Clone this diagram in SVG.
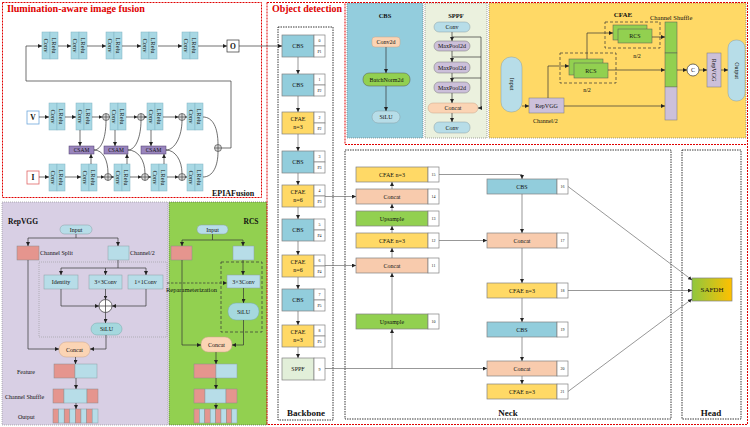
<svg xmlns="http://www.w3.org/2000/svg" width="750" height="427" viewBox="0 0 750 427">
<defs>
<marker id="a" viewBox="0 0 6 6" refX="6" refY="3" markerWidth="4" markerHeight="4" markerUnits="userSpaceOnUse" orient="auto"><path d="M0,0L6,3L0,6z" fill="#222"/></marker>
<linearGradient id="sg" x1="0" x2="1" y1="0" y2="0"><stop offset="0" stop-color="#8fc73e"/><stop offset="1" stop-color="#ffc000"/></linearGradient>
<g id="cb">
<rect x="0" y="0" width="8" height="27" fill="#a8d8e4" stroke="#7fb3c2" stroke-width="0.5"/>
<rect x="8" y="0" width="8" height="27" fill="#a8d8e4" stroke="#7fb3c2" stroke-width="0.5"/>
<text class="s rot" transform="translate(4,13.5) rotate(90)">Conv</text>
<text class="s rot" transform="translate(12,13.5) rotate(90)">LRelu</text>
</g>
<g id="op">
<circle cx="0" cy="0" r="3.5" fill="#d9d9d9" stroke="#333" stroke-width="0.6"/>
<path d="M-3.5,0H3.5M0,-3.5V3.5" stroke="#333" stroke-width="0.6"/>
</g>
</defs>
<style>
.s{font-family:"Liberation Serif","Times New Roman",serif;fill:#111;text-anchor:middle;dominant-baseline:central}
.rot{font-size:6.5px}
.st{text-anchor:start}
.ttl{font-weight:bold;fill:#e00000;font-size:9.5px;text-anchor:start}
.bt{font-weight:bold;font-size:7.5px}
.bt2{font-weight:bold;font-size:9px}
.f6{font-size:6px}
.f5{font-size:5.5px}
.f4{font-size:4px}
.ln{fill:none;stroke:#6b6b6b;stroke-width:0.7}
.la{fill:none;stroke:#6b6b6b;stroke-width:0.7;marker-end:url(#a)}
.dk{fill:none;stroke:#333;stroke-width:0.7;marker-end:url(#a)}
.red{fill:none;stroke:#e00000;stroke-width:1;stroke-dasharray:2,1}
.dot{fill:none;stroke:#222;stroke-width:0.9;stroke-dasharray:1.5,1}
.nd{stroke:#808080;stroke-width:0.7}
.cbs{fill:#92cddc}.cfae{fill:#ffd966}.cc{fill:#f8cbad}.up{fill:#92d050}.sp{fill:#e2efd9}.w{fill:#fff}
.lb{fill:#b7dde8;stroke:#8a9ea5;stroke-width:0.5}
.rd{fill:#e5958e;stroke:#8a8a8a;stroke-width:0.5}
.pp{fill:#ccc0da;stroke:#777;stroke-width:0.5}
.gr{fill:#92d050;stroke:#555;stroke-width:0.5}
.pc{fill:#fbd4b4;stroke:#c9a58a;stroke-width:0.5}
</style>

<!-- ===== Illumination-aware image fusion ===== -->
<g id="fusion">
<rect class="red" x="2.5" y="2.5" width="259" height="195"/>
<text class="s ttl" x="7" y="9" textLength="138" lengthAdjust="spacingAndGlyphs">Ilumination-aware image fusion</text>
<use href="#cb" x="42" y="32"/><use href="#cb" x="71" y="32"/><use href="#cb" x="106" y="32"/><use href="#cb" x="141" y="32"/><use href="#cb" x="182" y="32"/>
<rect x="227" y="40" width="12" height="12" fill="#fff" stroke="#333" stroke-width="0.7"/>
<text class="s" x="233" y="46" style="font-size:7.5px;font-weight:bold">O</text>
<use href="#cb" x="49" y="103"/><use href="#cb" x="76" y="103"/><use href="#cb" x="110" y="103"/><use href="#cb" x="147" y="103"/><use href="#cb" x="187" y="103"/>
<use href="#cb" x="49" y="164"/><use href="#cb" x="81" y="164"/><use href="#cb" x="114" y="164"/><use href="#cb" x="151" y="164"/><use href="#cb" x="187" y="164"/>
<rect x="27" y="111" width="12" height="13" fill="#fff" stroke="#6fa8dc" stroke-width="0.8"/>
<text class="s" x="33" y="117.5" style="font-size:7.5px;font-weight:bold">V</text>
<rect x="27" y="171" width="12" height="13" fill="#fff" stroke="#e06666" stroke-width="0.8"/>
<text class="s" x="33" y="177.5" style="font-size:7.5px;font-weight:bold">I</text>
<rect x="69" y="146" width="25" height="8" fill="#9985bd" stroke="#4b3b6b" stroke-width="0.5"/>
<rect x="104" y="146" width="24" height="8" fill="#9985bd" stroke="#4b3b6b" stroke-width="0.5"/>
<rect x="141" y="146" width="25" height="8" fill="#9985bd" stroke="#4b3b6b" stroke-width="0.5"/>
<text class="s f5" x="81.5" y="150">CSAM</text><text class="s f5" x="116" y="150">CSAM</text><text class="s f5" x="153.5" y="150">CSAM</text>
<text class="s st" x="212" y="193" style="font-size:8px;font-weight:bold">EPIAFusion</text>
</g>

<!-- ===== RepVGG panel ===== -->
<g id="repvgg">
<rect x="2" y="202" width="166" height="223" fill="#d8cfe4" stroke="#888" stroke-width="0.6" stroke-dasharray="1,1"/>
<text class="s st bt" x="8" y="221">RepVGG</text>
<rect class="lb" x="60" y="225" width="32" height="9" rx="4.5"/><text class="s f6" x="76" y="229.5">Input</text>
<rect class="rd" x="17" y="246" width="22" height="14"/><text class="s st f6" x="40" y="253">Channel Split</text>
<rect class="lb" x="108" y="246" width="21" height="14"/><text class="s st f6" x="130" y="253">Channel/2</text>
<rect x="39" y="262" width="128" height="75" fill="none" stroke="#999" stroke-width="0.6" stroke-dasharray="1,1"/>
<rect class="lb" x="44" y="275" width="34" height="14"/><text class="s f6" x="61" y="282">Identity</text>
<rect class="lb" x="89" y="275" width="33" height="14"/><text class="s f6" x="105.5" y="282">3×3Conv</text>
<rect class="lb" x="128" y="275" width="35" height="14"/><text class="s f6" x="145.5" y="282">1×1Conv</text>
<circle cx="105.5" cy="306" r="6.5" fill="#fff" stroke="#333" stroke-width="0.7"/>
<path d="M99,306H112M105.5,299.5V312.5" stroke="#333" stroke-width="0.7"/>
<rect x="91" y="323" width="31" height="12" rx="6" fill="#a5d8de" stroke="#7aa" stroke-width="0.5"/><text class="s f6" x="106.5" y="329">SiLU</text>
<rect class="pc" x="59" y="342" width="31" height="15" rx="7"/><text class="s f6" x="74.5" y="349.5">Concat</text>
<rect class="rd" x="54" y="364" width="21" height="14"/><rect class="lb" x="75" y="364" width="22" height="14"/>
<text class="s st f6" x="17" y="372">Feature</text>
<rect class="rd" x="53" y="389" width="11" height="14"/><rect class="lb" x="64" y="389" width="23" height="14"/><rect class="rd" x="87" y="389" width="11" height="14"/>
<text class="s st f6" x="5" y="397">Channel Shuffle</text>
<rect class="rd" x="53" y="409" width="5.6" height="14"/><rect class="lb" x="58.6" y="409" width="5.6" height="14"/><rect class="rd" x="64.2" y="409" width="5.6" height="14"/><rect class="lb" x="69.8" y="409" width="5.6" height="14"/><rect class="rd" x="75.4" y="409" width="5.6" height="14"/><rect class="lb" x="81" y="409" width="5.6" height="14"/><rect class="rd" x="86.6" y="409" width="5.6" height="14"/><rect class="lb" x="92.2" y="409" width="5.8" height="14"/>
<text class="s st f6" x="18" y="417">Output</text>
</g>

<!-- ===== RCS panel ===== -->
<g id="rcs">
<rect x="169" y="202" width="98" height="223" fill="#92d050" stroke="#444" stroke-width="0.6" stroke-dasharray="1,1"/>
<text class="s bt" x="251" y="221">RCS</text>
<rect class="lb" x="197" y="225" width="31" height="9" rx="4.5"/><text class="s f6" x="212.5" y="229.5">Input</text>
<rect class="rd" x="171" y="246" width="21" height="14"/>
<rect class="lb" x="233" y="246" width="21" height="14"/>
<rect x="221" y="262" width="41" height="70" fill="none" stroke="#333" stroke-width="0.7" stroke-dasharray="3,2"/>
<rect class="lb" x="227" y="275" width="33" height="13"/><text class="s f6" x="243.5" y="281.5">3×3Conv</text>
<rect x="228" y="303" width="31" height="17" rx="8" fill="#a5d8de" stroke="#7aa" stroke-width="0.5"/><text class="s f6" x="243.5" y="311.5">SiLU</text>
<rect class="pc" x="201" y="337" width="31" height="15" rx="7"/><text class="s f6" x="216.5" y="344.5">Concat</text>
<rect class="rd" x="194" y="364" width="22" height="14"/><rect class="lb" x="216" y="364" width="21" height="14"/>
<rect class="rd" x="194" y="389" width="11" height="14"/><rect class="lb" x="205" y="389" width="21" height="14"/><rect class="rd" x="226" y="389" width="11" height="14"/>
<rect class="rd" x="194" y="409" width="5.4" height="14"/><rect class="lb" x="199.4" y="409" width="5.4" height="14"/><rect class="rd" x="204.8" y="409" width="5.4" height="14"/><rect class="lb" x="210.2" y="409" width="5.4" height="14"/><rect class="rd" x="215.6" y="409" width="5.4" height="14"/><rect class="lb" x="221" y="409" width="5.4" height="14"/><rect class="rd" x="226.4" y="409" width="5.4" height="14"/><rect class="lb" x="231.8" y="409" width="5.2" height="14"/>
<text class="s st" x="166" y="289" style="font-size:6.5px">Reparameterization</text>
</g>

<!-- ===== Object detection frame ===== -->
<g id="frames">
<rect class="red" x="267" y="2.5" width="480.5" height="422"/>
<text class="s ttl" x="272" y="9" textLength="70" lengthAdjust="spacingAndGlyphs">Object detection</text>
<rect x="347" y="3" width="76" height="135" fill="#93cddd" stroke="#666" stroke-width="0.6" stroke-dasharray="1,1"/>
<rect x="425" y="3" width="62" height="135" fill="#ebf1de" stroke="#666" stroke-width="0.6" stroke-dasharray="1,1"/>
<rect x="489" y="3" width="257" height="135" fill="#ffd966" stroke="#666" stroke-width="0.6" stroke-dasharray="1,1"/>
<rect class="red" x="345" y="2.5" width="402.5" height="142"/>
<rect class="dot" x="278" y="27" width="55" height="393"/>
<text class="s bt2" x="306" y="413">Backbone</text>
<rect class="dot" x="345" y="150" width="326" height="269"/>
<text class="s bt2" x="508" y="413">Neck</text>
<rect class="dot" x="682" y="150" width="59" height="269"/>
<text class="s bt2" x="711" y="413">Head</text>
</g>

<!-- ===== CBS detail ===== -->
<g id="cbsdetail">
<text class="s" x="385" y="15" style="font-size:6.5px;font-weight:bold">CBS</text>
<rect class="pc" x="372" y="37" width="28" height="10" rx="3"/><text class="s f6" x="386" y="42">Conv2d</text>
<rect class="gr" x="363" y="73" width="47" height="13" rx="6"/><text class="s f6" x="386.5" y="79.5">BatchNorm2d</text>
<rect class="lb" x="372" y="111" width="28" height="12" rx="6"/><text class="s f6" x="386" y="117">SiLU</text>
</g>

<!-- ===== SPPF detail ===== -->
<g id="sppfdetail">
<text class="s" x="456" y="15" style="font-size:6.5px;font-weight:bold">SPPF</text>
<rect class="lb" x="434" y="22" width="36" height="10" rx="5"/><text class="s f6" x="452" y="27">Conv</text>
<rect class="pp" x="434" y="41" width="36" height="10" rx="5"/><text class="s f6" x="452" y="46">MaxPool2d</text>
<rect class="pp" x="434" y="62" width="36" height="11" rx="5"/><text class="s f6" x="452" y="67.5">MaxPool2d</text>
<rect class="pp" x="434" y="82" width="36" height="11" rx="5"/><text class="s f6" x="452" y="87.5">MaxPool2d</text>
<rect class="pc" x="428" y="103" width="50" height="10" rx="5"/><text class="s f6" x="453" y="108">Concat</text>
<rect class="lb" x="434" y="122" width="36" height="11" rx="5"/><text class="s f6" x="452" y="127.5">Conv</text>
</g>

<!-- ===== CFAE detail ===== -->
<g id="cfaedetail">
<text class="s" x="623" y="15" style="font-size:7px;font-weight:bold">CFAE</text>
<text class="s st" x="650" y="17" style="font-size:6.5px">Channel Shuffle</text>
<rect class="lb" x="501" y="57" width="21" height="55" rx="10"/><text class="s f6" transform="translate(511.5,84) rotate(90)">Input</text>
<rect class="pp" x="529" y="98" width="35" height="15"/><text class="s f6" x="546.5" y="105.5">RepVGG</text>
<text class="s st f6" x="533" y="121">Channel/2</text>
<rect x="560" y="53" width="56" height="30" fill="none" stroke="#333" stroke-width="0.7" stroke-dasharray="3,2"/>
<rect class="gr" x="569" y="59" width="34" height="16"/><rect class="gr" x="574" y="63" width="34" height="15"/><text class="s f6" x="591" y="70.5">RCS</text>
<text class="s f6" x="587" y="90">n/2</text>
<rect x="605" y="22" width="55" height="26" fill="none" stroke="#333" stroke-width="0.7" stroke-dasharray="3,2"/>
<rect class="gr" x="613" y="25" width="34" height="15"/><rect class="gr" x="618" y="29" width="34" height="14"/><text class="s f6" x="635" y="36">RCS</text>
<text class="s f6" x="637" y="56">n/2</text>
<rect class="gr" x="665" y="22" width="12" height="31"/><rect class="gr" x="665" y="53" width="12" height="34"/><rect class="pp" x="665" y="87" width="12" height="33"/>
<circle cx="693" cy="70" r="6" fill="#fff" stroke="#333" stroke-width="0.7"/><text class="s f6" x="693" y="70">C</text>
<rect class="pp" x="707" y="53" width="14" height="34"/><text class="s f6" transform="translate(714,70) rotate(90)">RepVGG</text>
<rect class="lb" x="728" y="40" width="17" height="61" rx="8"/><text class="s f6" transform="translate(736.5,70.5) rotate(90)">Output</text>
</g>

<!-- ===== Backbone nodes ===== -->
<g id="n0"><rect class="nd cbs" x="282" y="35" width="32" height="22"/><rect class="nd w" x="314" y="35" width="11" height="11"/><rect class="nd w" x="314" y="46" width="11" height="11"/><text class="s f6" x="298" y="46">CBS</text><text class="s f4" x="319.5" y="40.5">0</text><text class="s f4" x="319.5" y="51.5">P1</text></g>
<g id="n1"><rect class="nd cbs" x="282" y="74" width="32" height="22"/><rect class="nd w" x="314" y="74" width="11" height="11"/><rect class="nd w" x="314" y="85" width="11" height="11"/><text class="s f6" x="298" y="85">CBS</text><text class="s f4" x="319.5" y="79.5">1</text><text class="s f4" x="319.5" y="90.5">P2</text></g>
<g id="n2"><rect class="nd cfae" x="282" y="112" width="32" height="22"/><rect class="nd w" x="314" y="112" width="11" height="11"/><rect class="nd w" x="314" y="123" width="11" height="11"/><text class="s f6" x="298" y="119">CFAE</text><text class="s f6" x="298" y="127">n=3</text><text class="s f4" x="319.5" y="117.5">2</text><text class="s f4" x="319.5" y="128.5">P2</text></g>
<g id="n3"><rect class="nd cbs" x="282" y="151" width="32" height="22"/><rect class="nd w" x="314" y="151" width="11" height="11"/><rect class="nd w" x="314" y="162" width="11" height="11"/><text class="s f6" x="298" y="162">CBS</text><text class="s f4" x="319.5" y="156.5">3</text><text class="s f4" x="319.5" y="167.5">P3</text></g>
<g id="n4"><rect class="nd cfae" x="282" y="185" width="32" height="22"/><rect class="nd w" x="314" y="185" width="11" height="11"/><rect class="nd w" x="314" y="196" width="11" height="11"/><text class="s f6" x="298" y="192">CFAE</text><text class="s f6" x="298" y="200">n=6</text><text class="s f4" x="319.5" y="190.5">4</text><text class="s f4" x="319.5" y="201.5">P3</text></g>
<g id="n5"><rect class="nd cbs" x="282" y="219" width="32" height="22"/><rect class="nd w" x="314" y="219" width="11" height="11"/><rect class="nd w" x="314" y="230" width="11" height="11"/><text class="s f6" x="298" y="230">CBS</text><text class="s f4" x="319.5" y="224.5">5</text><text class="s f4" x="319.5" y="235.5">P4</text></g>
<g id="n6"><rect class="nd cfae" x="282" y="255" width="32" height="22"/><rect class="nd w" x="314" y="255" width="11" height="11"/><rect class="nd w" x="314" y="266" width="11" height="11"/><text class="s f6" x="298" y="262">CFAE</text><text class="s f6" x="298" y="270">n=6</text><text class="s f4" x="319.5" y="260.5">6</text><text class="s f4" x="319.5" y="271.5">P4</text></g>
<g id="n7"><rect class="nd cbs" x="282" y="289" width="32" height="22"/><rect class="nd w" x="314" y="289" width="11" height="11"/><rect class="nd w" x="314" y="300" width="11" height="11"/><text class="s f6" x="298" y="300">CBS</text><text class="s f4" x="319.5" y="294.5">7</text><text class="s f4" x="319.5" y="305.5">P5</text></g>
<g id="n8"><rect class="nd cfae" x="282" y="325" width="32" height="22"/><rect class="nd w" x="314" y="325" width="11" height="11"/><rect class="nd w" x="314" y="336" width="11" height="11"/><text class="s f6" x="298" y="332">CFAE</text><text class="s f6" x="298" y="340">n=3</text><text class="s f4" x="319.5" y="330.5">8</text><text class="s f4" x="319.5" y="341.5">P5</text></g>
<g id="n9"><rect class="nd sp" x="282" y="358" width="32" height="22"/><rect class="nd w" x="314" y="358" width="11" height="22"/><text class="s f6" x="298" y="369">SPPF</text><text class="s f4" x="319.5" y="369">9</text></g>

<!-- ===== Neck nodes ===== -->
<g id="n15"><rect class="nd cfae" x="356" y="167" width="72" height="15"/><rect class="nd w" x="428" y="167" width="11" height="15"/><text class="s f6" x="392" y="174.5">CFAE n=3</text><text class="s f4" x="433.5" y="174.5">15</text></g>
<g id="n14"><rect class="nd cc" x="356" y="189" width="72" height="15"/><rect class="nd w" x="428" y="189" width="11" height="15"/><text class="s f6" x="392" y="196.5">Concat</text><text class="s f4" x="433.5" y="196.5">14</text></g>
<g id="n13"><rect class="nd up" x="356" y="211" width="72" height="15"/><rect class="nd w" x="428" y="211" width="11" height="15"/><text class="s f6" x="392" y="218.5">Upsample</text><text class="s f4" x="433.5" y="218.5">13</text></g>
<g id="n12"><rect class="nd cfae" x="356" y="233" width="72" height="15"/><rect class="nd w" x="428" y="233" width="11" height="15"/><text class="s f6" x="392" y="240.5">CFAE n=3</text><text class="s f4" x="433.5" y="240.5">12</text></g>
<g id="n11"><rect class="nd cc" x="356" y="258" width="72" height="15"/><rect class="nd w" x="428" y="258" width="11" height="15"/><text class="s f6" x="392" y="265.5">Concat</text><text class="s f4" x="433.5" y="265.5">11</text></g>
<g id="n10"><rect class="nd up" x="356" y="314" width="72" height="15"/><rect class="nd w" x="428" y="314" width="11" height="15"/><text class="s f6" x="392" y="321.5">Upsample</text><text class="s f4" x="433.5" y="321.5">10</text></g>
<g id="n16"><rect class="nd cbs" x="487" y="179" width="70" height="15"/><rect class="nd w" x="557" y="179" width="11" height="15"/><text class="s f6" x="522" y="186.5">CBS</text><text class="s f4" x="562.5" y="186.5">16</text></g>
<g id="n17"><rect class="nd cc" x="487" y="233" width="70" height="15"/><rect class="nd w" x="557" y="233" width="11" height="15"/><text class="s f6" x="522" y="240.5">Concat</text><text class="s f4" x="562.5" y="240.5">17</text></g>
<g id="n18"><rect class="nd cfae" x="487" y="283" width="70" height="15"/><rect class="nd w" x="557" y="283" width="11" height="15"/><text class="s f6" x="522" y="290.5">CFAE n=3</text><text class="s f4" x="562.5" y="290.5">18</text></g>
<g id="n19"><rect class="nd cbs" x="487" y="322" width="70" height="15"/><rect class="nd w" x="557" y="322" width="11" height="15"/><text class="s f6" x="522" y="329.5">CBS</text><text class="s f4" x="562.5" y="329.5">19</text></g>
<g id="n20"><rect class="nd cc" x="487" y="361" width="70" height="15"/><rect class="nd w" x="557" y="361" width="11" height="15"/><text class="s f6" x="522" y="368.5">Concat</text><text class="s f4" x="562.5" y="368.5">20</text></g>
<g id="n21"><rect class="nd cfae" x="487" y="384" width="70" height="15"/><rect class="nd w" x="557" y="384" width="11" height="15"/><text class="s f6" x="522" y="391.5">CFAE n=3</text><text class="s f4" x="562.5" y="391.5">21</text></g>
<g id="safdh"><rect x="692" y="278" width="40" height="23" fill="url(#sg)" stroke="#808080" stroke-width="0.7"/><text class="s" x="712" y="289.5" style="font-size:7px">SAFDH</text></g>

<!-- ===== Connectors ===== -->
<g id="connectors">
<path class="dk" d="M26,81V46H42"/>
<path class="dk" d="M58,46H71"/><path class="dk" d="M87,46H106"/><path class="dk" d="M122,46H141"/><path class="dk" d="M158,46H182"/><path class="dk" d="M198,46H227"/>
<path class="dk" d="M239,46H282"/>
<path class="ln" style="stroke:#333" d="M221.5,148H231V81H26"/>
<path class="dk" d="M39,117H49"/><path class="dk" d="M65,117H76"/><path class="dk" d="M92,117H102.5"/><path class="dk" d="M109.5,117H110"/>
<path class="dk" d="M126,117H137.5"/><path class="dk" d="M144.5,117H147"/><path class="dk" d="M163,117H178.5"/><path class="dk" d="M185.5,117H187"/>
<path class="dk" d="M39,177H49"/><path class="dk" d="M65,177H81"/><path class="dk" d="M97,177H104.5"/><path class="dk" d="M111.5,177H114"/>
<path class="dk" d="M130,177H141.5"/><path class="dk" d="M148.5,177H151"/><path class="dk" d="M167,177H178.5"/><path class="dk" d="M185.5,177H187"/>
<path class="dk" d="M80,130V146"/><path class="dk" d="M115,130V146"/><path class="dk" d="M151,130V146"/>
<path class="dk" d="M91,164V154"/><path class="dk" d="M127,164V154"/><path class="dk" d="M164,164V154"/>
<path class="ln" style="stroke:#333" d="M94,150C102,150 106,136 106,120.5M94,150C103,150 108,160 108,173.5"/>
<path class="ln" style="stroke:#333" d="M128,150C136,150 141,136 141,120.5M128,150C138,150 145,160 145,173.5"/>
<path class="ln" style="stroke:#333" d="M166,150C175,150 182,136 182,120.5M166,150C175,150 182,160 182,173.5"/>
<path class="ln" style="stroke:#333" d="M203,117C213,117 218,128 218,144.5M203,177C213,177 218,166 218,151.5"/>
<use href="#op" x="106" y="117"/><use href="#op" x="141" y="117"/><use href="#op" x="182" y="117"/>
<use href="#op" x="108" y="177"/><use href="#op" x="145" y="177"/><use href="#op" x="182" y="177"/>
<use href="#op" x="218" y="148"/>
<path class="dk" d="M76,234V238H28V246"/><path class="dk" d="M76,238H118V246"/>
<path class="ln" style="stroke:#333" d="M118,260V268M61,268H146"/>
<path class="dk" d="M61,268V275"/><path class="dk" d="M105.5,268V275"/><path class="dk" d="M146,268V275"/>
<path class="dk" d="M61,289V306H99"/><path class="dk" d="M146,289V306H112"/><path class="dk" d="M105.5,289V299.5"/>
<path class="dk" d="M105.5,312.5V323"/>
<path class="dk" d="M106,335V349H90"/><path class="dk" d="M28,260V349H59"/>
<path class="dk" d="M75.5,357V364"/><path class="dk" d="M76,378V389"/><path class="dk" d="M76,403V409"/>
<path class="dk" d="M212.5,234V240H182V246"/><path class="dk" d="M212.5,240H243V246"/>
<path class="dk" d="M243,260V275"/><path class="dk" d="M243.5,288V303"/>
<path class="dk" d="M243.5,320V345H232"/><path class="dk" d="M182,260V345H201"/>
<path class="dk" d="M216,352V364"/><path class="dk" d="M216,378V389"/><path class="dk" d="M216,403V409"/>
<path class="dk" style="stroke-dasharray:2.5,1.5" d="M167,283H227"/>
<path class="dk" d="M386,47V73"/><path class="dk" d="M386,86V111"/>
<path class="dk" d="M452,32V41"/><path class="dk" d="M452,51V62"/><path class="dk" d="M452,73V82"/><path class="dk" d="M452,93V103"/><path class="dk" d="M452,113V122"/>
<path class="ln" style="stroke:#333" d="M452,37H481M452,57H481M452,78H481"/>
<path class="dk" d="M481,37V108H478"/>
<path class="dk" d="M522,106H529"/>
<path class="dk" d="M564,106H665"/>
<path class="dk" d="M548,98V66H569"/>
<path class="dk" d="M608,70H665"/>
<path class="dk" d="M587,59V33H613"/>
<path class="dk" d="M652,37H665"/>
<path class="dk" d="M677,70H687"/><path class="dk" d="M699,70H707"/><path class="dk" d="M721,70H728"/>
<path class="la" d="M298,57V74"/><path class="la" d="M298,96V112"/><path class="la" d="M298,134V151"/><path class="la" d="M298,173V185"/>
<path class="la" d="M298,207V219"/><path class="la" d="M298,241V255"/><path class="la" d="M298,277V289"/><path class="la" d="M298,311V325"/><path class="la" d="M298,347V358"/>
<path class="la" d="M325,196.5H356"/><path class="la" d="M325,265.5H356"/><path class="la" d="M325,368.5H487"/>
<path class="la" d="M392,368.5V329"/><path class="la" d="M392,314V273"/>
<path class="la" d="M392,258V248"/><path class="la" d="M392,233V226"/><path class="la" d="M392,211V204"/><path class="la" d="M392,189V182"/>
<path class="la" d="M439,240.5H487"/>
<path class="la" d="M439,174.5H522V179"/>
<path class="la" d="M522,194V233"/><path class="la" d="M522,248V283"/><path class="la" d="M522,298V322"/><path class="la" d="M522,337V361"/><path class="la" d="M522,376V384"/>
<path class="la" d="M568,186.5L692,280"/><path class="la" d="M568,290.5H692"/><path class="la" d="M568,391.5L692,299"/>
</g>
</svg>
